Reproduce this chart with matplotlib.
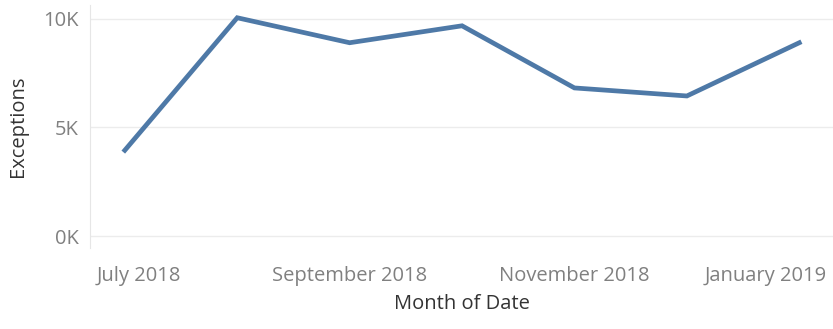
import matplotlib
matplotlib.use("Agg")
import matplotlib.pyplot as plt
from matplotlib.transforms import ScaledTranslation

# Monthly exception counts
months = ["July 2018", "August 2018", "September 2018", "October 2018",
          "November 2018", "December 2018", "January 2019"]
exceptions = [3950, 10050, 8900, 9680, 6820, 6450, 8900]
tick_idx = [0, 2, 4, 6]
y_ticks = [0, 5000, 10000]
y_labels = ["0K", "5K", "10K"]

plt.rcParams['font.family'] = ['Open Sans', 'DejaVu Sans']

fig = plt.figure(figsize=(8.33, 3.29), dpi=100)
ax = fig.add_axes([0.108, 0.246, 0.892, 0.739])

x = list(range(len(months)))
ax.plot(x, exceptions, color='#4e79a7', linewidth=3.4, solid_joinstyle='miter')

ax.set_xlim(-0.31, 6.3)
ax.set_ylim(-550, 10640)

# light gridlines like Tableau
for v in y_ticks:
    ax.axhline(v, color='#ececec', linewidth=1.0, zorder=0)
for s in ['top', 'right', 'bottom']:
    ax.spines[s].set_visible(False)
ax.spines['left'].set_color('#e6e6e6')

ax.set_yticks(y_ticks)
ax.set_yticklabels(y_labels)
ax.set_xticks(tick_idx)
ax.set_xticklabels([months[i] for i in tick_idx])
ax.tick_params(axis='both', length=0, colors='#808080', labelsize=14.5)
ax.tick_params(axis='x', pad=13)
ax.tick_params(axis='y', pad=8)

# keep the edge labels inside the plot, as the original does
xl = ax.get_xticklabels()
xl[0].set_transform(xl[0].get_transform() + ScaledTranslation(0.14, 0, fig.dpi_scale_trans))
xl[-1].set_transform(xl[-1].get_transform() + ScaledTranslation(-0.34, 0, fig.dpi_scale_trans))

ax.set_xlabel("Month of Date", fontsize=14.5, color='#333333', labelpad=6)
ax.set_ylabel("Exceptions", fontsize=14.5, color='#333333', labelpad=11)

fig.savefig("out.png", dpi=100)
